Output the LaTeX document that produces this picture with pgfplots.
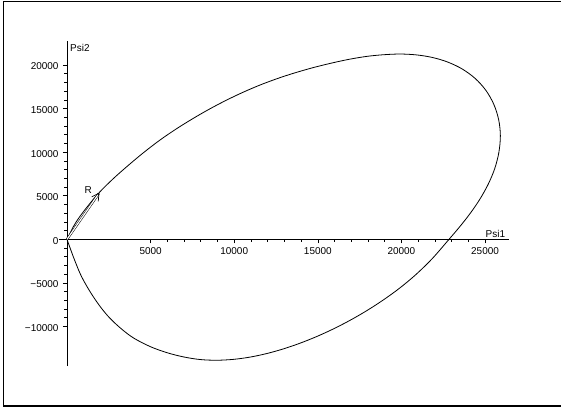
\documentclass[border=0pt]{standalone}
\usepackage{pgfplots}
\pgfplotsset{compat=1.18}
\usepackage{fontspec}
\setmainfont{Liberation Sans}
\usetikzlibrary{arrows.meta}
\begin{document}
\begin{tikzpicture}[x=1bp,y=1bp]
\useasboundingbox (0,0) rectangle (561,412);
\draw[line width=1.3bp] (3.3,6) rectangle (575,410.5);
\begin{axis}[
  at={(58.97bp,46bp)}, anchor=south west,
  scale only axis, width=450.3bp, height=324.6bp,
  xmin=-480, xmax=26450, ymin=-14530, ymax=22700,
  axis lines=middle,
  axis line style={-, line width=0.7bp},
  every tick/.style={black, line width=0.6bp},
  major tick length=4bp, minor tick length=2.5bp,
  tick align=outside,
  scaled ticks=false,
  xtick={5000,10000,15000,20000,25000},
  xticklabels={5000,10000,15000,20000,25000},
  ytick={-10000,-5000,0,5000,10000,15000,20000},
  yticklabels={−10000,−5000,0,5000,10000,15000,20000},
  minor x tick num=4, minor y tick num=4,
  hide obscured x ticks=false, hide obscured y ticks=false,
  ticklabel style={font=\fontsize{10}{12}\selectfont},
  xticklabel style={anchor=north, yshift=-1bp},
  yticklabel style={anchor=east, xshift=-1bp, yshift=-1.5bp},
  clip=false,
]
\addplot[black, line width=0.8bp, smooth, tension=0.55] coordinates {
(0,0) (378,1445) (760,2592) (1376,4128) (1974,5459) (2751,6927) (3571,8326)
(4549,9898) (5562,11388) (6544,12673) (7555,13876) (8542,14962) (9551,15975)
(10538,16874) (11543,17695) (12532,18404) (13535,19037) (14725,19695)
(15927,20260) (16922,20664) (17925,20980) (18919,21169) (19916,21250)
(20879,21154) (21832,20865) (22756,20339) (23626,19544) (24406,18456)
(25051,17083) (25526,15474) (25816,13711) (25917,11873)
(25825,9946) (25573,8073) (25182,6290) (24690,4601) (24123,3001)
(23501,1477) (22846,0)
(21854,-2190) (20861,-4048) (19868,-5634) (18876,-7007) (17883,-8234)
(16890,-9329) (15897,-10307) (14904,-11174) (13911,-11932) (12919,-12580)
(11926,-13111) (10933,-13513) (9940,-13770) (8947,-13869) (7955,-13786)
(6962,-13484) (5969,-12995) (4976,-12303) (3983,-11320) (3248,-10264)
(2572,-9060) (2044,-7863) (1573,-6583) (1151,-5267) (778,-3899)
(377,-1995) (0,0)
};
\addplot[black, line width=0.5bp, double, double distance=1.2bp] coordinates {(0,0) (1900,5250)};
\addplot[black, line width=0.7bp, -{Straight Barb[length=7bp,width=8bp]}] coordinates {(1850,5110) (1934,5344)};
\node[font=\fontsize{10}{12}\selectfont] at (axis cs:1275,5600) {R};
\node[font=\fontsize{10}{12}\selectfont, anchor=south east, inner sep=0pt] at (axis cs:26450,0) [xshift=-4bp, yshift=2bp] {Psi1};
\node[font=\fontsize{10}{12}\selectfont, anchor=west, inner sep=0pt] at (axis cs:0,21904) [xshift=3bp] {Psi2};
\end{axis}
\end{tikzpicture}
\end{document}
